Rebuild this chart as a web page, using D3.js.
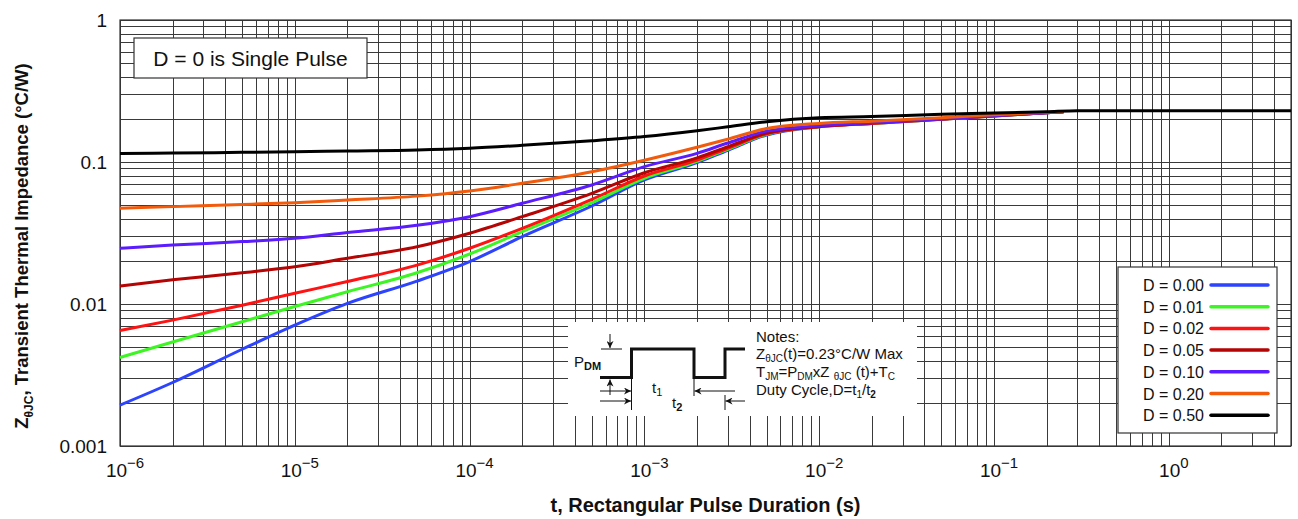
<!DOCTYPE html>
<html>
<head>
    <meta charset="utf-8">
    <title>Transient Thermal Impedance</title>
    <style>
        body {
            margin: 0;
            background: #fff;
            font-family: "Liberation Sans", Arial, Helvetica, sans-serif;
        }

        .grid line {
            stroke: #3a3a3a;
            stroke-width: 1;
            shape-rendering: crispEdges;
        }

        .grid path {
            display: none;
        }

        .frame {
            fill: none;
            stroke: #333;
            stroke-width: 1.2;
        }

        .curve {
            fill: none;
            stroke-width: 3;
            stroke-linejoin: round;
        }

        .tick-label {
            font-size: 19px;
            fill: #111;
        }

        .title {
            font-size: 18px;
            font-weight: bold;
            fill: #111;
        }

        .note {
            font-size: 15px;
            fill: #111;
        }
    </style>
    <script src="https://d3js.org/d3.v7.min.js"></script>
</head>
<body>
<script type="text/javascript">
    // time points (s) for the duty-cycle curves
    var times = [1e-6, 2e-6, 5e-6, 1e-5, 2e-5, 5e-5, 1e-4, 2e-4, 5e-4, 1e-3, 2e-3, 3e-3, 5e-3, 1e-2, 2e-2, 5e-2, 0.1, 0.25];
    var timesD50 = [1e-6, 2e-6, 5e-6, 1e-5, 2e-5, 5e-5, 1e-4, 2e-4, 5e-4, 1e-3, 2e-3, 3e-3, 5e-3, 1e-2, 2e-2, 5e-2, 0.1, 0.2, 0.3, 1, 5];

    var zD00 = [0.00194, 0.0028, 0.0048, 0.0071, 0.0101, 0.0145, 0.0199, 0.0298, 0.049, 0.0747, 0.099, 0.121, 0.155, 0.177, 0.187, 0.200, 0.211, 0.226];
    var zD01 = [0.0042, 0.0054, 0.0075, 0.0096, 0.0122, 0.0166, 0.0225, 0.0323, 0.0517, 0.0768, 0.101, 0.123, 0.157, 0.177, 0.187, 0.200, 0.211, 0.226];
    var zD02 = [0.0065, 0.0077, 0.0098, 0.0119, 0.0144, 0.0188, 0.0247, 0.0341, 0.0546, 0.0797, 0.103, 0.125, 0.158, 0.177, 0.187, 0.200, 0.211, 0.226];
    var zD05 = [0.0134, 0.0148, 0.0166, 0.0183, 0.021, 0.0253, 0.0315, 0.0412, 0.0601, 0.084, 0.107, 0.128, 0.160, 0.178, 0.188, 0.201, 0.212, 0.226];
    var zD10 = [0.0247, 0.026, 0.0275, 0.029, 0.0319, 0.0358, 0.0412, 0.0512, 0.0689, 0.0927, 0.115, 0.136, 0.165, 0.180, 0.189, 0.201, 0.212, 0.226];
    var zD20 = [0.0472, 0.0485, 0.0502, 0.0517, 0.054, 0.0575, 0.0625, 0.0708, 0.0855, 0.103, 0.127, 0.145, 0.172, 0.187, 0.194, 0.205, 0.215, 0.227];
    var zD50 = [0.115, 0.1155, 0.117, 0.118, 0.1195, 0.1215, 0.125, 0.131, 0.141, 0.151, 0.166, 0.177, 0.192, 0.205, 0.209, 0.217, 0.221, 0.226, 0.23, 0.23, 0.23];

    var seriesNames = ["D = 0.00", "D = 0.01", "D = 0.02", "D = 0.05", "D = 0.10", "D = 0.20", "D = 0.50"];
    var seriesColors = ["#2c43ff", "#3cf522", "#ff1212", "#b40404", "#5b1cff", "#f25a0c", "#000000"];

    var xTickValues = [1e-6, 1e-5, 1e-4, 1e-3, 1e-2, 1e-1, 1];
    var xTickExps = ["\u22126", "\u22125", "\u22124", "\u22123", "\u22122", "\u22121", "0"];
    var yTickValues = [1, 0.1, 0.01, 0.001];
    var yTickLabels = ["1", "0.1", "0.01", "0.001"];

    var width = 1298, height = 519,
        margins = {top: 20, left: 120, right: 7, bottom: 73};

    var svg = d3.select("body").append("svg")
        .attr("width", width)
        .attr("height", height);

    var x = d3.scaleLog().domain([1e-6, 5]).range([margins.left, width - margins.right]);
    var y = d3.scaleLog().domain([0.001, 1]).range([height - margins.bottom, margins.top]);

    // every 1..9 x decade gets a grid line
    function decadeLines(lo, hi) {
        var out = [];
        for (var e = lo; e <= hi; e++)
            for (var m = 1; m < 10; m++)
                out.push(m * Math.pow(10, e));
        return out;
    }

    var xGrid = decadeLines(-6, 0).filter(function (v) { return v <= 5; });
    var yGrid = decadeLines(-3, -1).concat([1]);

    svg.append("g")
        .attr("class", "grid")
        .attr("transform", "translate(0," + (height - margins.bottom) + ")")
        .call(d3.axisBottom(x).tickValues(xGrid).tickSize(-(height - margins.top - margins.bottom)).tickFormat(""));

    svg.append("g")
        .attr("class", "grid")
        .attr("transform", "translate(" + margins.left + ",0)")
        .call(d3.axisLeft(y).tickValues(yGrid).tickSize(-(width - margins.left - margins.right)).tickFormat(""));

    svg.append("rect")
        .attr("class", "frame")
        .attr("x", margins.left)
        .attr("y", margins.top)
        .attr("width", width - margins.left - margins.right)
        .attr("height", height - margins.top - margins.bottom);

    // tick labels
    svg.selectAll("text.ylab")
        .data(yTickValues)
        .enter().append("text")
        .attr("class", "tick-label ylab")
        .attr("x", margins.left - 13)
        .attr("y", function (d) { return y(d) + 7; })
        .attr("text-anchor", "end")
        .text(function (d, i) { return yTickLabels[i]; });

    var xl = svg.selectAll("text.xlab")
        .data(xTickValues)
        .enter().append("text")
        .attr("class", "tick-label xlab")
        .attr("x", function (d) { return x(d) + 5; })
        .attr("y", 477)
        .attr("text-anchor", "middle");
    xl.append("tspan").text("10");
    xl.append("tspan")
        .attr("dy", -9)
        .style("font-size", "15px")
        .text(function (d, i) { return xTickExps[i]; });

    // axis titles
    svg.append("text")
        .attr("class", "title")
        .style("font-size", "20px")
        .attr("x", x(1e-6) + (x(5) - x(1e-6)) / 2)
        .attr("y", 512)
        .attr("text-anchor", "middle")
        .text("t, Rectangular Pulse Duration (s)");

    var yt = svg.append("text")
        .attr("class", "title")
        .style("font-size", "18.5px")
        .attr("text-anchor", "middle")
        .attr("transform", "translate(28,246) rotate(-90)");
    yt.append("tspan").text("Z");
    yt.append("tspan").attr("dy", 5).style("font-size", "12px").text("\u03b8JC");
    yt.append("tspan").attr("dy", -5).text(", Transient Thermal Impedance (\u00b0C/W)");

    // curves
    var line = d3.line()
        .x(function (d) { return x(d[0]); })
        .y(function (d) { return y(d[1]); })
        .curve(d3.curveMonotoneX);

    var allSeries = [zD00, zD01, zD02, zD05, zD10, zD20, zD50];
    var bodyG = svg.append("g").attr("class", "body");
    allSeries.forEach(function (vals, i) {
        var t = (i === 6) ? timesD50 : times;
        bodyG.append("path")
            .attr("class", "curve")
            .attr("stroke", seriesColors[i])
            .attr("stroke-width", i === 6 ? 3.5 : 3)
            .attr("d", line(vals.map(function (v, j) { return [t[j], v]; })));
    });

    // single pulse note
    svg.append("rect")
        .attr("x", 134).attr("y", 38)
        .attr("width", 233).attr("height", 40)
        .attr("fill", "#fff")
        .attr("stroke", "#333")
        .attr("stroke-width", 1.2);
    svg.append("text")
        .attr("x", 250.5).attr("y", 66)
        .attr("text-anchor", "middle")
        .style("font-size", "21px")
        .attr("fill", "#111")
        .text("D = 0 is Single Pulse");

    // legend
    var lg = svg.append("g").attr("class", "legend");
    lg.append("rect")
        .attr("x", 1118).attr("y", 267)
        .attr("width", 159).attr("height", 166)
        .attr("fill", "#fff")
        .attr("stroke", "#333")
        .attr("stroke-width", 1.2);
    seriesNames.forEach(function (name, i) {
        var ly = 285 + i * 21.7;
        lg.append("text")
            .attr("x", 1204).attr("y", ly + 6)
            .attr("text-anchor", "end")
            .style("font-size", "16px")
            .attr("fill", "#111")
            .text(name);
        lg.append("line")
            .attr("x1", 1211).attr("x2", 1268)
            .attr("y1", ly).attr("y2", ly)
            .attr("stroke", seriesColors[i])
            .attr("stroke-width", 3.5)
            .attr("stroke-linecap", "round");
    });

    // duty cycle inset
    var ins = svg.append("g").attr("class", "inset");
    ins.append("rect")
        .attr("x", 568).attr("y", 322)
        .attr("width", 349).attr("height", 94)
        .attr("fill", "#fff");

    var defs = svg.append("defs");
    defs.append("marker")
        .attr("id", "arrow")
        .attr("viewBox", "0 0 10 10")
        .attr("refX", 10).attr("refY", 5)
        .attr("markerWidth", 11).attr("markerHeight", 7)
        .attr("markerUnits", "userSpaceOnUse")
        .attr("orient", "auto")
        .append("path")
        .attr("d", "M0,0 L10,5 L0,10 L3,5 Z")
        .attr("fill", "#111");

    var hiY = 349, loY = 377.5;
    ins.append("path")
        .attr("d", "M600," + loY + " H631.5 V" + hiY + " H694 V" + loY + " H725 V" + hiY + " H745")
        .attr("fill", "none")
        .attr("stroke", "#111")
        .attr("stroke-width", 3);

    var thin = function (x1, y1, x2, y2, arrow) {
        var l = ins.append("line")
            .attr("x1", x1).attr("y1", y1).attr("x2", x2).attr("y2", y2)
            .attr("stroke", "#111").attr("stroke-width", 1);
        if (arrow) l.attr("marker-end", "url(#arrow)");
    };
    thin(601, hiY, 622, hiY);
    thin(610, 334, 610, hiY - 1, true);
    thin(610, 395, 610, loY + 2, true);
    thin(631.5, loY, 631.5, 410);
    thin(694, loY, 694, 396);
    thin(725, 395, 725, 410);
    thin(600, 391, 631, 391, true);
    thin(735, 391, 694.5, 391, true);
    thin(600, 401, 631, 401, true);
    thin(745, 401, 725.5, 401, true);

    var pdm = ins.append("text").attr("class", "note").attr("x", 574).attr("y", 367);
    pdm.append("tspan").text("P");
    pdm.append("tspan").attr("dy", 3).style("font-size", "11px").style("font-weight", "bold").text("DM");

    var t1 = ins.append("text").attr("class", "note").attr("x", 652).attr("y", 393);
    t1.append("tspan").text("t");
    t1.append("tspan").attr("dy", 3).style("font-size", "11px").text("1");
    var t2 = ins.append("text").attr("class", "note").attr("x", 672).attr("y", 408);
    t2.append("tspan").text("t");
    t2.append("tspan").attr("dy", 3).style("font-size", "11px").style("font-weight", "bold").text("2");

    var nx = 756;
    ins.append("text").attr("class", "note").attr("x", nx).attr("y", 342).text("Notes:");

    var n2 = ins.append("text").attr("class", "note").attr("x", nx).attr("y", 358.5);
    n2.append("tspan").text("Z");
    n2.append("tspan").attr("dy", 3).style("font-size", "10px").text("\u03b8JC");
    n2.append("tspan").attr("dy", -3).text("(t)=0.23\u00b0C/W Max");

    var n3 = ins.append("text").attr("class", "note").attr("x", nx).attr("y", 377);
    n3.append("tspan").text("T");
    n3.append("tspan").attr("dy", 3).style("font-size", "10px").text("JM");
    n3.append("tspan").attr("dy", -3).text("=P");
    n3.append("tspan").attr("dy", 3).style("font-size", "10px").text("DM");
    n3.append("tspan").attr("dy", -3).text("xZ ");
    n3.append("tspan").attr("dy", 3).style("font-size", "10px").text("\u03b8JC");
    n3.append("tspan").attr("dy", -3).text(" (t)+T");
    n3.append("tspan").attr("dy", 3).style("font-size", "10px").text("C");

    var n4 = ins.append("text").attr("class", "note").attr("x", nx).attr("y", 395);
    n4.append("tspan").text("Duty Cycle,D=t");
    n4.append("tspan").attr("dy", 3).style("font-size", "10px").text("1");
    n4.append("tspan").attr("dy", -3).text("/t");
    n4.append("tspan").attr("dy", 3).style("font-size", "10px").style("font-weight", "bold").text("2");
</script>
</body>
</html>
